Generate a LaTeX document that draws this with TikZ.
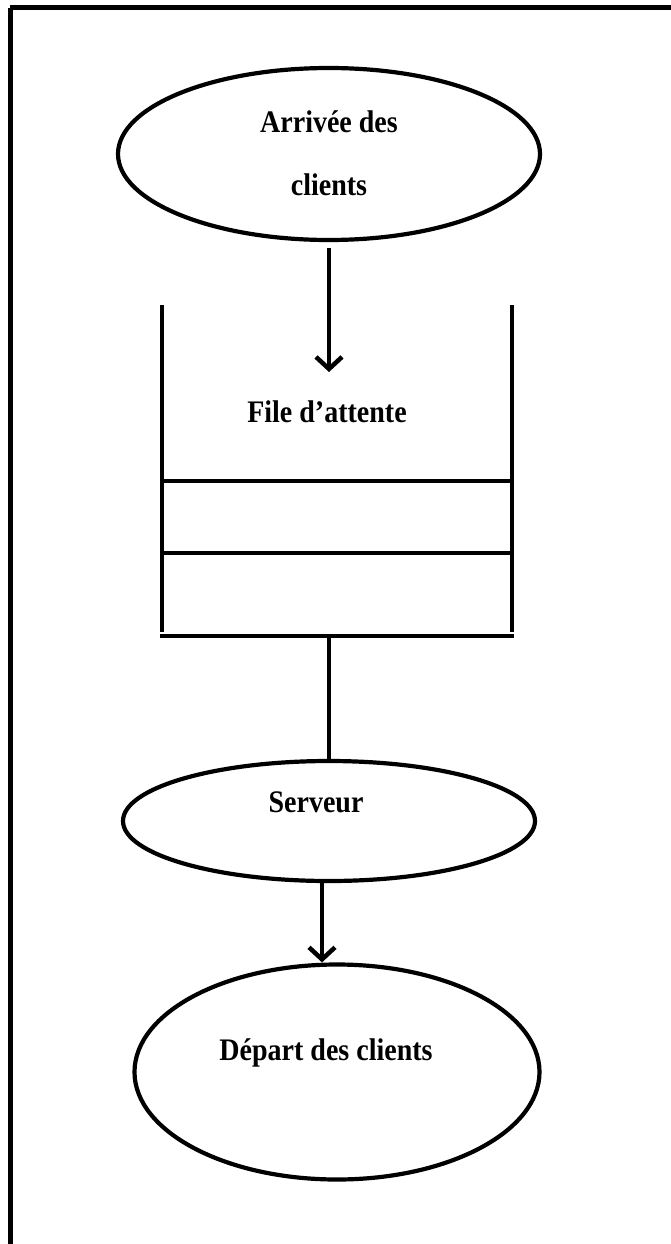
\documentclass[tikz,border=0pt]{standalone}
\usepackage{fontspec}
\setmainfont{Liberation Serif}
\usetikzlibrary{shapes.geometric,arrows.meta}
\tikzset{
  frame/.style={line width=5pt},
  oval/.style={draw, ellipse, line width=4.2pt, inner sep=0pt},
  wall/.style={line width=4.5pt},
  link/.style={line width=4.2pt},
  flow/.style={line width=4.2pt, -{Straight Barb[length=12pt,width=26pt,line width=4.5pt]}},
  lbl/.style={font=\bfseries\fontsize{28}{34}\selectfont, inner sep=0pt, anchor=base, yscale=1.12}
}
\begin{document}
\begin{tikzpicture}[x=1pt,y=-1pt]
\useasboundingbox (0,0) rectangle (671,1244);
\fill[white] (0,0) rectangle (671,1244);

% outer frame (top and left edges)
\draw[frame] (10,8) -- (671,8);
\draw[frame] (10,8) -- (10,1244);

% arrival
\node[oval, minimum width=422pt, minimum height=172pt] (arr) at (329,154) {};
\node[lbl] (arrtxt1) at (329,132) {Arrivée des};
\node[lbl] (arrtxt2) at (329,195) {clients};

% queue
\coordinate (qtl) at (162,305);
\coordinate (qtr) at (512,305);
\coordinate (qbl) at (162,632);
\coordinate (qbr) at (512,632);
\coordinate (qin) at (329,372);
\coordinate (qout) at (329,636);
\draw[wall] (qtl) -- (qbl);
\draw[wall] (qtr) -- (qbr);
\draw[wall] (162,481) -- (512,481);
\draw[wall] (162,553) -- (512,553);
\draw[wall] (160,636) -- (514,636);
\node[lbl] (qtxt) at (327,422) {File d’attente};

% server
\node[oval, minimum width=412pt, minimum height=120pt] (srv) at (329,821) {};
\node[lbl] (srvtxt) at (316,812) {Serveur};

% departure
\node[oval, minimum width=405pt, minimum height=215pt] (dep) at (337,1072) {};
\node[lbl] (deptxt) at (326,1060) {Départ des clients};

% connectors
\draw[flow, shorten <=6pt] (arr.south) -- (qin);
\draw[link] (qout) -- (srv.north);
\draw[flow] ([xshift=-7pt]srv.south) -- ([xshift=-15pt]dep.north);
\end{tikzpicture}
\end{document}
